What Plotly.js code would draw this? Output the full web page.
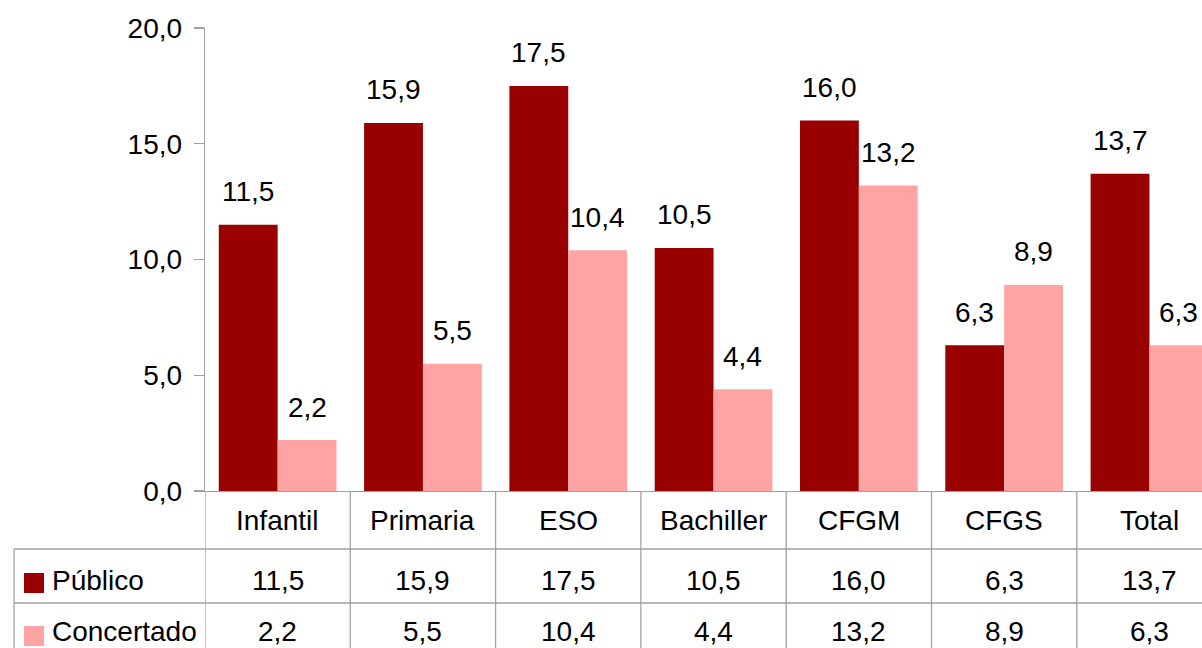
<!DOCTYPE html>
<html>
<head>
<meta charset="utf-8">
<script src="https://cdn.plot.ly/plotly-3.0.1.min.js"></script>
<style>html,body{margin:0;padding:0;background:#fff;}#chart{width:1202px;height:648px;}</style>
</head>
<body>
<div id="chart"></div>
<script>
const categories = ['Infantil','Primaria','ESO','Bachiller','CFGM','CFGS','Total'];
const publico = [11.5,15.9,17.5,10.5,16.0,6.3,13.7];
const concertado = [2.2,5.5,10.4,4.4,13.2,8.9,6.3];
const seriesNames = ['Público','Concertado'];
const yTicks = [0,5,10,15,20];

const W = 1202, H = 648;
const M = {l:205, r:0, t:28, b:157};
const plotW = W - M.l - M.r, plotH = H - M.t - M.b;
const catPx = 145.3;
const bargap = 0.19;
const xMax = -0.5 + plotW / catPx;
const barPx = catPx * (1 - bargap) / 2;
const FONT = '"Liberation Sans", Arial, sans-serif';
const FS = 28;
const colors = ['#990000', '#FFA3A3'];
const gridColor = '#A0A0A0';
const bottomPx = H - M.b;
const py = p => (bottomPx - p) / plotH;   // pixel y -> paper y
const pxX = p => (p - M.l) / plotW;        // pixel x -> paper x
const fmt = v => v.toFixed(1).replace('.', ',');

const traces = [publico, concertado].map((vals, i) => ({
  type: 'bar', name: seriesNames[i], x: categories, y: vals,
  marker: {color: colors[i], line: {width: 0}}, hoverinfo: 'none'
}));

const annotations = [];
const shapes = [];
const tfont = {family: FONT, size: FS, color: '#000'};
[publico, concertado].forEach((vals, s) => {
  vals.forEach((v, i) => {
    annotations.push({x: categories[i], y: v, xref: 'x', yref: 'y', text: fmt(v),
      showarrow: false, xanchor: 'center', yanchor: 'middle',
      xshift: (s === 0 ? -1 : 1) * barPx / 2, yshift: 33, font: tfont});
  });
});
// table rows
const rowCenters = [520, 580, 631];
categories.forEach((c, i) => {
  annotations.push({x: c, y: py(rowCenters[0]), xref: 'x', yref: 'paper', text: c,
    showarrow: false, xanchor: 'center', yanchor: 'middle', font: tfont});
  annotations.push({x: c, y: py(rowCenters[1]), xref: 'x', yref: 'paper', text: fmt(publico[i]),
    showarrow: false, xanchor: 'center', yanchor: 'middle', font: tfont});
  annotations.push({x: c, y: py(rowCenters[2]), xref: 'x', yref: 'paper', text: fmt(concertado[i]),
    showarrow: false, xanchor: 'center', yanchor: 'middle', font: tfont});
});
seriesNames.forEach((n, s) => {
  annotations.push({x: pxX(50), y: py(rowCenters[s + 1]), xref: 'paper', yref: 'paper', text: n,
    showarrow: false, xanchor: 'left', yanchor: 'middle', font: tfont});
  const top = s === 0 ? 573 : 626;
  shapes.push({type: 'rect', xref: 'paper', yref: 'paper', x0: pxX(24), x1: pxX(44), y0: py(top), y1: py(top + 20),
    fillcolor: colors[s], line: {width: 0}});
});
// grid lines of the table
for (let i = 0; i <= categories.length; i++) {
  shapes.push({type: 'line', xref: 'x', yref: 'paper', x0: i - 0.5, x1: i - 0.5, y0: 0, y1: py(H + 5),
    line: {color: gridColor, width: 1.3}});
}
[549, 603].forEach(p => shapes.push({type: 'line', xref: 'paper', yref: 'paper', x0: pxX(14), x1: 1.05,
  y0: py(p), y1: py(p), line: {color: gridColor, width: 1.3}}));
shapes.push({type: 'line', xref: 'paper', yref: 'paper', x0: pxX(14), x1: pxX(14), y0: py(549), y1: py(H + 5),
  line: {color: gridColor, width: 1.3}});

const layout = {
  width: W, height: H, margin: M, paper_bgcolor: '#fff', plot_bgcolor: '#fff',
  separators: ',.', showlegend: false, barmode: 'group', bargap: bargap, bargroupgap: 0,
  font: tfont,
  xaxis: {type: 'category', range: [-0.5, xMax], showticklabels: false, ticks: '', showgrid: false,
    zeroline: false, showline: true, linecolor: gridColor, linewidth: 1.3, fixedrange: true},
  yaxis: {range: [0, 20], tickvals: yTicks, tickformat: '.1f', ticks: 'outside', ticklen: 10,
    tickcolor: gridColor, tickwidth: 1.3, showline: true, linecolor: gridColor, linewidth: 1.3,
    showgrid: false, zeroline: false, ticklabelstandoff: 6,
    tickfont: tfont, fixedrange: true},
  annotations: annotations, shapes: shapes
};
Plotly.newPlot('chart', traces, layout, {displayModeBar: false, staticPlot: true});
</script>
</body>
</html>
